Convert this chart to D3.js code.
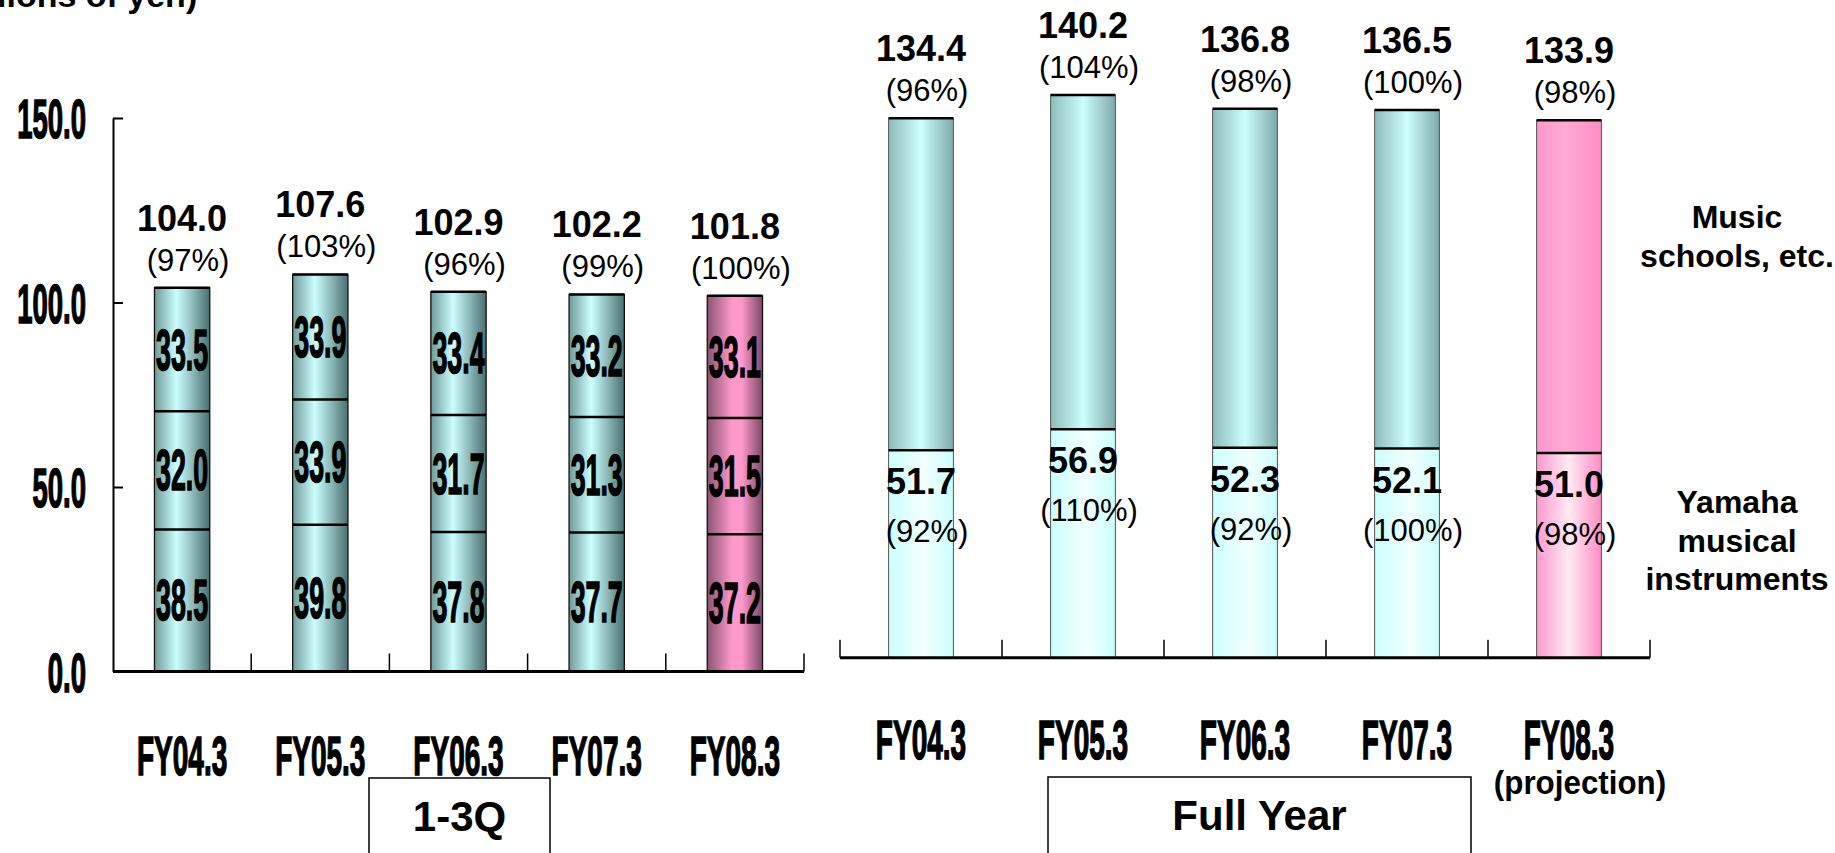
<!DOCTYPE html>
<html>
<head>
<meta charset="utf-8">
<script src="https://cdn.jsdelivr.net/npm/d3@7"></script>
<style>
  body { margin: 0; background: #fff; }
  svg { display: block; }
  text { font-family: "Liberation Sans", Arial, sans-serif; fill: #000; }
</style>
</head>
<body>
<svg id="chart" width="1835" height="853"></svg>
<script>
// Data
var years = ["FY04.3", "FY05.3", "FY06.3", "FY07.3", "FY08.3"];
var projected = [false, false, false, false, true];

// 1-3Q segments (bottom to top) and totals
var q3Bottom = [38.5, 39.8, 37.8, 37.7, 37.2];
var q3Middle = [32.0, 33.9, 31.7, 31.3, 31.5];
var q3Top = [33.5, 33.9, 33.4, 33.2, 33.1];
var q3Total = [104.0, 107.6, 102.9, 102.2, 101.8];
var q3Pct = ["(97%)", "(103%)", "(96%)", "(99%)", "(100%)"];

// Full year: Yamaha musical instruments and total (rest = music schools, etc.)
var fyInstruments = [51.7, 56.9, 52.3, 52.1, 51.0];
var fyInstrPct = ["(92%)", "(110%)", "(92%)", "(100%)", "(98%)"];
var fyTotal = [134.4, 140.2, 136.8, 136.5, 133.9];
var fyPct = ["(96%)", "(104%)", "(98%)", "(100%)", "(98%)"];

var yTicks = [0, 50, 100, 150];

var svg = d3.select("#chart");
var defs = svg.append("defs");

// horizontal gradients for the cylinder-ish bars
function grad(id, stops) {
    var g = defs.append("linearGradient").attr("id", id)
        .attr("x1", "0").attr("x2", "1").attr("y1", "0").attr("y2", "0");
    stops.forEach(function (s) { g.append("stop").attr("offset", s[0]).attr("stop-color", s[1]); });
}
grad("tealDark", [["0%", "#6f9a9a"], ["40%", "#ccffff"], ["100%", "#4a7070"]]);
grad("pinkDark", [["0%", "#8a5474"], ["45%", "#ff99cc"], ["62%", "#ff99cc"], ["100%", "#7e4766"]]);
grad("tealLight", [["0%", "#8dbcbc"], ["50%", "#ccffff"], ["100%", "#7ea9a9"]]);
grad("cyanPale", [["0%", "#ccffff"], ["55%", "#f2ffff"], ["100%", "#ccffff"]]);
grad("pinkLight", [["0%", "#ff99cc"], ["45%", "#ffaad5"], ["100%", "#ff8cc5"]]);
grad("pinkPale", [["0%", "#ff99cc"], ["50%", "#ffeaf5"], ["100%", "#ff8cc5"]]);

// text helper; sx squeezes the glyphs horizontally (condensed look)
function label(x, y, txt, size, weight, sx, anchor) {
    var t = svg.append("text")
        .attr("transform", "translate(" + x + "," + y + ") scale(" + sx + ",1)")
        .attr("text-anchor", anchor || "middle")
        .style("font-size", size + "px")
        .style("font-weight", weight)
        .text(txt);
    // squeezed glyphs get thin, thicken them a bit
    if (sx < 0.7) t.attr("stroke", "#000").attr("stroke-width", 1.6);
    return t;
}

// unit label, cut at the top edge like the original slide
label(-54, 7, "(billions of yen)", 34, "bold", 1, "start");

/* ---------- 1-3Q chart ---------- */
var xL = d3.scaleBand().domain(years).range([113, 804]).paddingInner(0.6).paddingOuter(0.3);
var yL = d3.scaleLinear().domain([0, 150]).range([671.5, 118]);

var rowsL = years.map(function (y, i) {
    return { year: y, i: i, bottom: q3Bottom[i], middle: q3Middle[i], top: q3Top[i] };
});
var stackL = d3.stack().keys(["bottom", "middle", "top"])(rowsL);

var gL = svg.append("g");
stackL.forEach(function (layer) {
    gL.selectAll(null).data(layer).enter().append("rect")
        .attr("x", function (d) { return xL(d.data.year); })
        .attr("y", function (d) { return yL(d[1]); })
        .attr("width", xL.bandwidth())
        .attr("height", function (d) { return yL(d[0]) - yL(d[1]); })
        .attr("fill", function (d) { return projected[d.data.i] ? "url(#pinkDark)" : "url(#tealDark)"; });
});
// bar outlines
gL.selectAll(null).data(rowsL).enter().append("rect")
    .attr("x", function (d) { return xL(d.year); })
    .attr("y", function (d) { return yL(q3Total[d.i]); })
    .attr("width", xL.bandwidth())
    .attr("height", function (d) { return yL(0) - yL(q3Total[d.i]); })
    .attr("fill", "none").attr("stroke", "#111").attr("stroke-width", 1.3);
// segment separators and top edge
stackL.forEach(function (layer) {
    gL.selectAll(null).data(layer).enter().append("line")
        .attr("x1", function (d) { return xL(d.data.year); })
        .attr("x2", function (d) { return xL(d.data.year) + xL.bandwidth(); })
        .attr("y1", function (d) { return yL(d[1]); })
        .attr("y2", function (d) { return yL(d[1]); })
        .attr("stroke", "#000").attr("stroke-width", 2.5);
});
// segment values (condensed bold)
stackL.forEach(function (layer) {
    layer.forEach(function (d) {
        var cy = (yL(d[0]) + yL(d[1])) / 2;
        label(xL(d.data.year) + xL.bandwidth() / 2, cy + 20, (d[1] - d[0]).toFixed(1), 57, "bold", 0.47);
    });
});
// totals and growth rates
rowsL.forEach(function (d) {
    var cx = xL(d.year) + xL.bandwidth() / 2;
    var top = yL(q3Total[d.i]);
    label(cx, top - 57, q3Total[d.i].toFixed(1), 36, "bold", 1);
    label(cx + 6, top - 17, q3Pct[d.i], 31, "normal", 1);
});

// y axis: ticks point inward, labels far to the left
var axisL = svg.append("g").attr("transform", "translate(113,0)")
    .call(d3.axisLeft(yL).tickValues(yTicks).tickSizeInner(-10).tickSizeOuter(0)
        .tickFormat(d3.format(".1f")).tickPadding(27));
axisL.select(".domain").attr("stroke-width", 2);
axisL.selectAll(".tick line").attr("stroke-width", 2);
axisL.selectAll("text")
    .attr("x", -27 / 0.5).attr("transform", "scale(0.5,1)")
    .attr("font-family", null).attr("dy", "0.36em")
    .attr("stroke", "#000").attr("stroke-width", 1.6)
    .style("font-size", "55px").style("font-weight", "bold");

// baseline with category separators
svg.append("line").attr("x1", 113).attr("x2", 804).attr("y1", yL(0)).attr("y2", yL(0))
    .attr("stroke", "#000").attr("stroke-width", 3);
svg.selectAll(null).data(years).enter().append("line")
    .attr("x1", function (d) { return xL(d) + xL.bandwidth() / 2 + xL.step() / 2; })
    .attr("x2", function (d) { return xL(d) + xL.bandwidth() / 2 + xL.step() / 2; })
    .attr("y1", yL(0)).attr("y2", yL(0) - 18)
    .attr("stroke", "#000").attr("stroke-width", 1.5);
years.forEach(function (y) {
    label(xL(y) + xL.bandwidth() / 2, 775, y, 56, "bold", 0.5);
});

// "1-3Q" box
svg.append("rect").attr("x", 369).attr("y", 778).attr("width", 181).attr("height", 100)
    .attr("fill", "none").attr("stroke", "#000").attr("stroke-width", 1.5);
label(459.5, 831, "1-3Q", 42, "bold", 1);

/* ---------- Full year chart ---------- */
var xR = d3.scaleBand().domain(years).range([840, 1650]).paddingInner(0.6).paddingOuter(0.3);
var yR = d3.scaleLinear().domain([0, 150]).range([657.7, 55.75]);

var rowsR = years.map(function (y, i) {
    return { year: y, i: i, instruments: fyInstruments[i], schools: +(fyTotal[i] - fyInstruments[i]).toFixed(1) };
});
var stackR = d3.stack().keys(["instruments", "schools"])(rowsR);

var gR = svg.append("g");
stackR.forEach(function (layer, li) {
    gR.selectAll(null).data(layer).enter().append("rect")
        .attr("x", function (d) { return xR(d.data.year); })
        .attr("y", function (d) { return yR(d[1]); })
        .attr("width", xR.bandwidth())
        .attr("height", function (d) { return yR(d[0]) - yR(d[1]); })
        .attr("fill", function (d) {
            if (projected[d.data.i]) return li === 0 ? "url(#pinkPale)" : "url(#pinkLight)";
            return li === 0 ? "url(#cyanPale)" : "url(#tealLight)";
        });
});
gR.selectAll(null).data(rowsR).enter().append("rect")
    .attr("x", function (d) { return xR(d.year); })
    .attr("y", function (d) { return yR(fyTotal[d.i]); })
    .attr("width", xR.bandwidth())
    .attr("height", function (d) { return yR(0) - yR(fyTotal[d.i]); })
    .attr("fill", "none").attr("stroke", "#555").attr("stroke-width", 1);
stackR.forEach(function (layer) {
    gR.selectAll(null).data(layer).enter().append("line")
        .attr("x1", function (d) { return xR(d.data.year); })
        .attr("x2", function (d) { return xR(d.data.year) + xR.bandwidth(); })
        .attr("y1", function (d) { return yR(d[1]); })
        .attr("y2", function (d) { return yR(d[1]); })
        .attr("stroke", "#000").attr("stroke-width", 2.5);
});
rowsR.forEach(function (d) {
    var cx = xR(d.year) + xR.bandwidth() / 2;
    var top = yR(fyTotal[d.i]);
    var mid = yR(fyInstruments[d.i]);
    label(cx, top - 57, fyTotal[d.i].toFixed(1), 36, "bold", 1);
    label(cx + 6, top - 17, fyPct[d.i], 31, "normal", 1);
    label(cx, mid + 44, fyInstruments[d.i].toFixed(1), 36, "bold", 1);
    label(cx + 6, mid + 92, fyInstrPct[d.i], 31, "normal", 1);
});

// baseline with separators at both ends and between the bands
var edgesR = d3.range(years.length + 1).map(function (i) { return xR.range()[0] + i * xR.step(); });
svg.append("line").attr("x1", 840).attr("x2", 1650).attr("y1", yR(0)).attr("y2", yR(0))
    .attr("stroke", "#000").attr("stroke-width", 3);
svg.selectAll(null).data(edgesR).enter().append("line")
    .attr("x1", function (d) { return d; })
    .attr("x2", function (d) { return d; })
    .attr("y1", yR(0)).attr("y2", yR(0) - 18)
    .attr("stroke", "#000").attr("stroke-width", 1.5);
years.forEach(function (y) {
    label(xR(y) + xR.bandwidth() / 2, 759, y, 56, "bold", 0.5);
});
label(1580, 794, "(projection)", 33, "bold", 0.95);

svg.append("rect").attr("x", 1048).attr("y", 777).attr("width", 423).attr("height", 100)
    .attr("fill", "none").attr("stroke", "#000").attr("stroke-width", 1.5);
label(1259.5, 830, "Full Year", 42, "bold", 1);

// series names on the right
[["Music", 228], ["schools, etc.", 267], ["Yamaha", 513], ["musical", 552], ["instruments", 590]]
    .forEach(function (t) { label(1737, t[1], t[0], 32, "bold", 1); });
</script>
</body>
</html>
